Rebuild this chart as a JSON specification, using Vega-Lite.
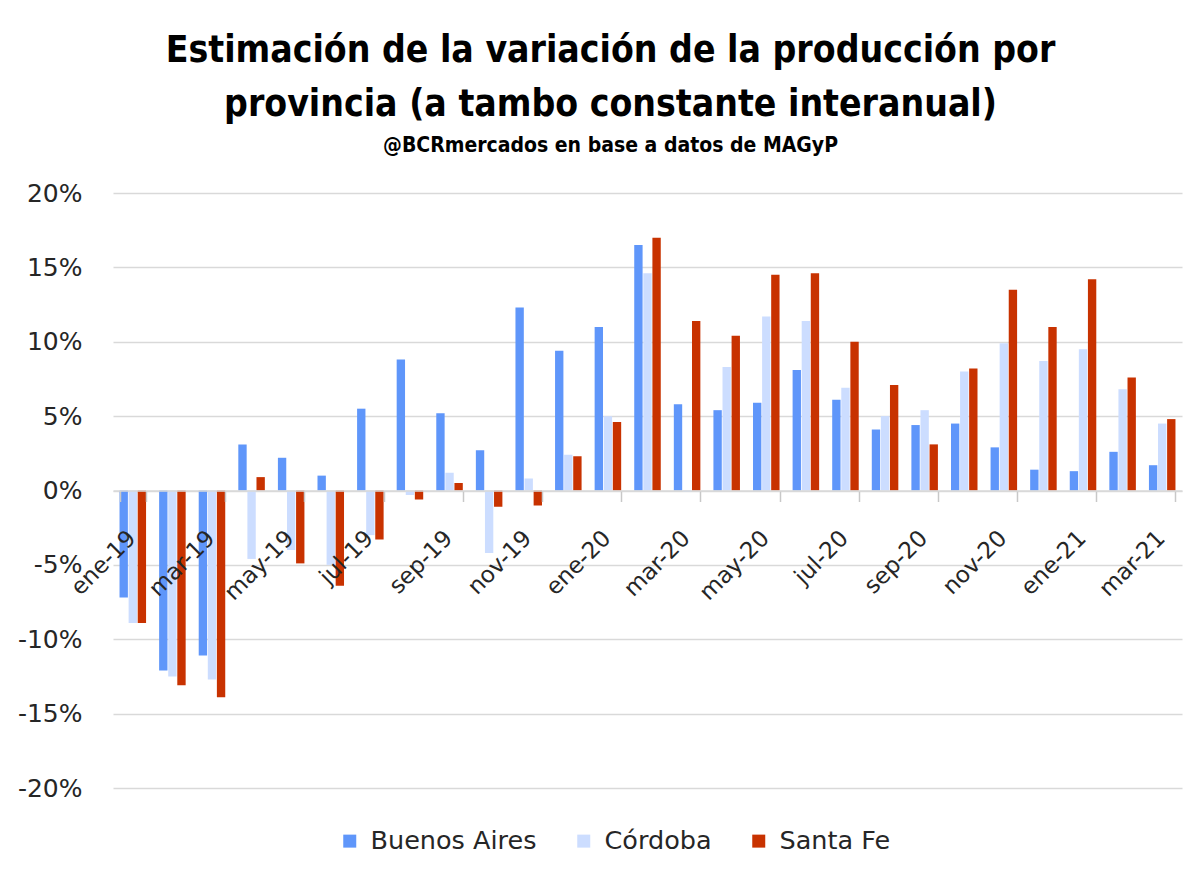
{
  "$schema": "https://vega.github.io/schema/vega-lite/v6.json",
  "autosize": {"type": "none"},
  "width": 1069,
  "height": 595,
  "padding": {"left": 113, "top": 193, "right": 19, "bottom": 85},
  "background": "white",
  "title": {
    "text": ["Estimación de la variación de la producción por", "provincia (a tambo constante interanual)"],
    "subtitle": "@BCRmercados en base a datos de MAGyP",
    "anchor": "middle",
    "frame": "group",
    "dx": -37,
    "offset": 24,
    "font": "DejaVu Sans Condensed",
    "fontSize": 37,
    "fontWeight": "bold",
    "lineHeight": 54,
    "color": "#000000",
    "subtitleFont": "DejaVu Sans Condensed",
    "subtitleFontSize": 21,
    "subtitleFontWeight": "bold",
    "subtitleColor": "#000000",
    "subtitlePadding": 11
  },
  "config": {
    "view": {"stroke": null},
    "font": "DejaVu Sans"
  },
  "data": {
    "values": [
      {"m": "ene-19", "p": "Buenos Aires", "v": -7.2}, {"m": "ene-19", "p": "Córdoba", "v": -8.9}, {"m": "ene-19", "p": "Santa Fe", "v": -8.9},
      {"m": "feb-19", "p": "Buenos Aires", "v": -12.1}, {"m": "feb-19", "p": "Córdoba", "v": -12.5}, {"m": "feb-19", "p": "Santa Fe", "v": -13.1},
      {"m": "mar-19", "p": "Buenos Aires", "v": -11.1}, {"m": "mar-19", "p": "Córdoba", "v": -12.7}, {"m": "mar-19", "p": "Santa Fe", "v": -13.9},
      {"m": "abr-19", "p": "Buenos Aires", "v": 3.1}, {"m": "abr-19", "p": "Córdoba", "v": -4.6}, {"m": "abr-19", "p": "Santa Fe", "v": 0.9},
      {"m": "may-19", "p": "Buenos Aires", "v": 2.2}, {"m": "may-19", "p": "Córdoba", "v": -4.0}, {"m": "may-19", "p": "Santa Fe", "v": -4.9},
      {"m": "jun-19", "p": "Buenos Aires", "v": 1.0}, {"m": "jun-19", "p": "Córdoba", "v": -5.0}, {"m": "jun-19", "p": "Santa Fe", "v": -6.4},
      {"m": "jul-19", "p": "Buenos Aires", "v": 5.5}, {"m": "jul-19", "p": "Córdoba", "v": -3.0}, {"m": "jul-19", "p": "Santa Fe", "v": -3.3},
      {"m": "ago-19", "p": "Buenos Aires", "v": 8.8}, {"m": "ago-19", "p": "Córdoba", "v": -0.3}, {"m": "ago-19", "p": "Santa Fe", "v": -0.6},
      {"m": "sep-19", "p": "Buenos Aires", "v": 5.2}, {"m": "sep-19", "p": "Córdoba", "v": 1.2}, {"m": "sep-19", "p": "Santa Fe", "v": 0.5},
      {"m": "oct-19", "p": "Buenos Aires", "v": 2.7}, {"m": "oct-19", "p": "Córdoba", "v": -4.2}, {"m": "oct-19", "p": "Santa Fe", "v": -1.1},
      {"m": "nov-19", "p": "Buenos Aires", "v": 12.3}, {"m": "nov-19", "p": "Córdoba", "v": 0.8}, {"m": "nov-19", "p": "Santa Fe", "v": -1.0},
      {"m": "dic-19", "p": "Buenos Aires", "v": 9.4}, {"m": "dic-19", "p": "Córdoba", "v": 2.4}, {"m": "dic-19", "p": "Santa Fe", "v": 2.3},
      {"m": "ene-20", "p": "Buenos Aires", "v": 11.0}, {"m": "ene-20", "p": "Córdoba", "v": 5.0}, {"m": "ene-20", "p": "Santa Fe", "v": 4.6},
      {"m": "feb-20", "p": "Buenos Aires", "v": 16.5}, {"m": "feb-20", "p": "Córdoba", "v": 14.6}, {"m": "feb-20", "p": "Santa Fe", "v": 17.0},
      {"m": "mar-20", "p": "Buenos Aires", "v": 5.8}, {"m": "mar-20", "p": "Córdoba", "v": -0.1}, {"m": "mar-20", "p": "Santa Fe", "v": 11.4},
      {"m": "abr-20", "p": "Buenos Aires", "v": 5.4}, {"m": "abr-20", "p": "Córdoba", "v": 8.3}, {"m": "abr-20", "p": "Santa Fe", "v": 10.4},
      {"m": "may-20", "p": "Buenos Aires", "v": 5.9}, {"m": "may-20", "p": "Córdoba", "v": 11.7}, {"m": "may-20", "p": "Santa Fe", "v": 14.5},
      {"m": "jun-20", "p": "Buenos Aires", "v": 8.1}, {"m": "jun-20", "p": "Córdoba", "v": 11.4}, {"m": "jun-20", "p": "Santa Fe", "v": 14.6},
      {"m": "jul-20", "p": "Buenos Aires", "v": 6.1}, {"m": "jul-20", "p": "Córdoba", "v": 6.9}, {"m": "jul-20", "p": "Santa Fe", "v": 10.0},
      {"m": "ago-20", "p": "Buenos Aires", "v": 4.1}, {"m": "ago-20", "p": "Córdoba", "v": 5.0}, {"m": "ago-20", "p": "Santa Fe", "v": 7.1},
      {"m": "sep-20", "p": "Buenos Aires", "v": 4.4}, {"m": "sep-20", "p": "Córdoba", "v": 5.4}, {"m": "sep-20", "p": "Santa Fe", "v": 3.1},
      {"m": "oct-20", "p": "Buenos Aires", "v": 4.5}, {"m": "oct-20", "p": "Córdoba", "v": 8.0}, {"m": "oct-20", "p": "Santa Fe", "v": 8.2},
      {"m": "nov-20", "p": "Buenos Aires", "v": 2.9}, {"m": "nov-20", "p": "Córdoba", "v": 9.9}, {"m": "nov-20", "p": "Santa Fe", "v": 13.5},
      {"m": "dic-20", "p": "Buenos Aires", "v": 1.4}, {"m": "dic-20", "p": "Córdoba", "v": 8.7}, {"m": "dic-20", "p": "Santa Fe", "v": 11.0},
      {"m": "ene-21", "p": "Buenos Aires", "v": 1.3}, {"m": "ene-21", "p": "Córdoba", "v": 9.5}, {"m": "ene-21", "p": "Santa Fe", "v": 14.2},
      {"m": "feb-21", "p": "Buenos Aires", "v": 2.6}, {"m": "feb-21", "p": "Córdoba", "v": 6.8}, {"m": "feb-21", "p": "Santa Fe", "v": 7.6},
      {"m": "mar-21", "p": "Buenos Aires", "v": 1.7}, {"m": "mar-21", "p": "Córdoba", "v": 4.5}, {"m": "mar-21", "p": "Santa Fe", "v": 4.8}
    ]
  },
  "mark": {"type": "bar"},
  "encoding": {
    "x": {
      "field": "m",
      "type": "nominal",
      "sort": null,
      "title": null,
      "scale": {"paddingInner": 0.33, "paddingOuter": 0.165},
      "axis": {
        "values": ["ene-19", "mar-19", "may-19", "jul-19", "sep-19", "nov-19", "ene-20", "mar-20", "may-20", "jul-20", "sep-20", "nov-20", "ene-21", "mar-21"],
        "offset": -297.5,
        "tickBand": "extent",
        "ticks": true,
        "tickSize": 11,
        "tickColor": "#c8c8c8",
        "tickWidth": 1.5,
        "domain": true,
        "domainColor": "#d9d9d9",
        "domainWidth": 1.5,
        "labelAngle": -45,
        "labelAlign": "right",
        "labelBaseline": "top",
        "labelPadding": 25,
        "labelOffset": -9,
        "labelFont": "DejaVu Sans",
        "labelFontSize": 23,
        "labelColor": "#262626",
        "grid": false,
        "zindex": 1
      }
    },
    "xOffset": {
      "field": "p",
      "type": "nominal",
      "sort": ["Buenos Aires", "Córdoba", "Santa Fe"],
      "scale": {"paddingInner": 0.08}
    },
    "y": {
      "field": "v",
      "type": "quantitative",
      "title": null,
      "scale": {"domain": [-20, 20], "nice": false},
      "axis": {
        "values": [-20, -15, -10, -5, 0, 5, 10, 15, 20],
        "labelExpr": "datum.value + '%'",
        "domain": false,
        "ticks": false,
        "grid": true,
        "gridColor": "#d9d9d9",
        "gridWidth": 1.5,
        "labelFont": "DejaVu Sans",
        "labelFontSize": 25,
        "labelColor": "#262626",
        "labelPadding": 31
      }
    },
    "color": {
      "field": "p",
      "type": "nominal",
      "sort": ["Buenos Aires", "Córdoba", "Santa Fe"],
      "scale": {"domain": ["Buenos Aires", "Córdoba", "Santa Fe"], "range": ["#5F96FA", "#CCDDFF", "#C83200"]},
      "legend": {
        "title": null,
        "orient": "none",
        "legendX": 224,
        "legendY": 635,
        "direction": "horizontal",
        "symbolType": "square",
        "symbolSize": 169,
        "symbolStrokeWidth": 0,
        "labelFont": "DejaVu Sans",
        "labelFontSize": 25.5,
        "labelColor": "#262626",
        "labelLimit": 400,
        "labelOffset": 8,
        "columnPadding": 34
      }
    }
  }
}
